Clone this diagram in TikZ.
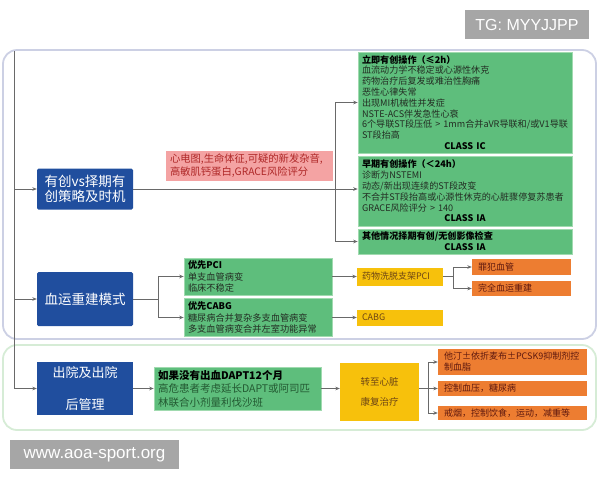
\documentclass[tikz,border=0pt]{standalone}
\usepackage{fontspec}
\setmainfont{Noto Sans CJK SC}
\newfontfamily\wmfont{Liberation Sans}
\usetikzlibrary{arrows.meta}
\definecolor{cBlue}{RGB}{32,78,158}
\definecolor{cGreen}{RGB}{94,190,124}
\definecolor{cGreenEdge}{RGB}{160,218,175}
\definecolor{cGText}{RGB}{35,45,35}
\definecolor{cDGText}{RGB}{35,90,50}
\definecolor{cRed}{RGB}{244,163,163}
\definecolor{cRedText}{RGB}{175,40,40}
\definecolor{cYellow}{RGB}{247,193,12}
\definecolor{cYText}{RGB}{110,70,20}
\definecolor{cOrange}{RGB}{237,125,49}
\definecolor{cOText}{RGB}{95,25,15}
\definecolor{cLine}{RGB}{105,105,105}
\definecolor{cPanelA}{RGB}{204,208,228}
\definecolor{cPanelB}{RGB}{214,236,214}
\definecolor{cWM}{RGB}{166,166,166}
\tikzset{
  conn/.style={draw=cLine, line width=0.7pt},
  arr/.style={conn, -{Stealth[length=4.5pt,width=3.6pt]}},
  bluebox/.style={fill=cBlue, text=white, inner sep=0pt, minimum width=96pt, align=center, rounded corners=1.5pt, font=\fontsize{13.5}{15.5}\selectfont},
  greenbox/.style={fill=cGreen, draw=cGreenEdge, line width=0.6pt, inner xsep=4pt, inner ysep=1pt, align=left, text=cGText, font=\fontsize{9.1}{10.8}\selectfont},
  redbox/.style={fill=cRed, inner xsep=4pt, inner ysep=1pt, align=left, text=cRedText, font=\fontsize{10.3}{13}\selectfont},
  yellowbox/.style={fill=cYellow, inner xsep=5pt, inner ysep=0pt, align=left, text=cYText, font=\fontsize{9}{11}\selectfont},
  orangebox/.style={fill=cOrange, inner xsep=6pt, inner ysep=0pt, align=left, text=cOText, font=\fontsize{9}{11}\selectfont},
  wmbox/.style={fill=cWM, text=white, inner sep=0pt, font=\wmfont\fontsize{16}{18}\selectfont},
  panel/.style={line width=1.8pt, rounded corners=14pt}
}
\begin{document}
\begin{tikzpicture}[x=1pt,y=-1pt]
\useasboundingbox (0,0) rectangle (600,480);
% panels
\draw[panel, draw=cPanelA] (3,50) rectangle (596,339);
\draw[panel, draw=cPanelB] (3,345) rectangle (596,430);
% watermarks
\node[wmbox, minimum width=124pt, minimum height=29pt] (tg) at (527,24.5) {TG: MYYJJPP};
\node[wmbox, minimum width=169pt, minimum height=29pt, font=\wmfont\fontsize{17}{19}\selectfont] (url) at (94.5,454.5) {www.aoa-sport.org};
% blue boxes
\node[bluebox, minimum height=41pt] (b1) at (85,189) {有创vs择期有\\创策略及时机};
\node[bluebox, minimum height=54pt] (b2) at (85,299) {血运重建模式};
\node[bluebox, minimum height=53pt, rounded corners=0pt, font=\fontsize{13}{32}\selectfont] (b3) at (85,388.5) {出院及出院\\后管理};
% red box
\node[redbox, text width=159pt, minimum height=30pt] (rb) at (249.5,166) {心电图,生命体征,可疑的新发杂音,\\高敏肌钙蛋白,GRACE风险评分};
% green boxes (right)
\node[greenbox, text width=206pt, minimum height=101pt] (g1) at (465,102.5) {{\color{black}\bfseries 立即有创操作（≤2h）}\\血流动力学不稳定或心源性休克\\药物治疗后复发或难治性胸痛\\恶性心律失常\\出现MI机械性并发症\\NSTE-ACS伴发急性心衰\\6个导联ST段压低 > 1mm合并aVR导联和/或V1导联\\ST段抬高\par{\centering\color{black}\bfseries CLASS IC\par}};
\node[greenbox, text width=206pt, minimum height=70pt] (g2) at (465,191) {{\color{black}\bfseries 早期有创操作（＜24h）}\\诊断为NSTEMI\\动态/新出现连续的ST段改变\\不合并ST段抬高或心源性休克的心脏骤停复苏患者\\GRACE风险评分 > 140\par{\centering\color{black}\bfseries CLASS IA\par}};
\node[greenbox, text width=206pt, minimum height=25pt] (g3) at (465,241.5) {{\color{black}\bfseries 其他情况择期有创/无创影像检查}\par{\centering\color{black}\bfseries CLASS IA\par}};
% revascularisation
\node[greenbox, text width=140pt, minimum height=37pt, font=\fontsize{9.2}{11.5}\selectfont] (pci) at (258,276.5) {{\color{black}\bfseries 优先PCI}\\单支血管病变\\临床不稳定};
\node[greenbox, text width=140pt, minimum height=38pt, font=\fontsize{9.2}{11.5}\selectfont] (cabg) at (258,317.5) {{\color{black}\bfseries 优先CABG}\\糖尿病合并复杂多支血管病变\\多支血管病变合并左室功能异常};
\node[yellowbox, text width=76pt, minimum height=18pt] (ypci) at (400,276.5) {药物洗脱支架PCI};
\node[yellowbox, text width=76pt, minimum height=16pt] (ycabg) at (400,317.5) {CABG};
\node[orangebox, text width=87pt, minimum height=16pt] (o1) at (521.5,267) {罪犯血管};
\node[orangebox, text width=87pt, minimum height=15pt] (o2) at (521.5,288.5) {完全血运重建};
% discharge
\node[greenbox, text width=159pt, minimum height=43pt, text=cDGText, font=\fontsize{10.5}{13.5}\selectfont] (gb) at (237.5,388.5) {{\color{black}\bfseries 如果没有出血DAPT12个月}\\高危患者考虑延长DAPT或阿司匹\\林联合小剂量利伐沙班};
\node[fill=cYellow, text=cYText, minimum width=79pt, minimum height=58pt, inner sep=0pt, align=center, font=\fontsize{9.5}{20}\selectfont] (yb) at (379.5,392) {转至心脏\\康复治疗};
\node[orangebox, text width=137pt, minimum height=26pt] (o3) at (512.5,362) {他汀±依折麦布±PCSK9抑制剂控\\制血脂};
\node[orangebox, text width=137pt, minimum height=15pt] (o4) at (512.5,388.5) {控制血压，糖尿病};
\node[orangebox, text width=137pt, minimum height=14pt] (o5) at (512.5,413) {戒烟，控制饮食，运动，减重等};
% trunk
\coordinate (t0) at (14,51);
\coordinate (t1) at (14,189);
\coordinate (t2) at (14,299);
\coordinate (t3) at (14,388.5);
\draw[conn] (t0) -- (t3);
\draw[arr] (t1) -- (b1.west);
\draw[arr] (t2) -- (b2.west);
\draw[arr] (t3) -- (b3.west);
% strategy branches
\coordinate (j1) at (335,189);
\draw[conn] (b1.east) -- (j1);
\draw[arr] (j1) -- (j1 -| g2.west);
\draw[conn] (j1 |- g1.west) -- (j1 |- g3.west);
\draw[arr] (j1 |- g1.west) -- (g1.west);
\draw[arr] (j1 |- g3.west) -- (g3.west);
% revascularisation branches
\coordinate (j2) at (158,299);
\draw[conn] (b2.east) -- (j2);
\draw[arr] (j2) |- (pci.west);
\draw[arr] (j2) |- (cabg.west);
\draw[arr] (pci.east) -- (ypci.west);
\draw[arr] (cabg.east) -- (ycabg.west);
\coordinate (j3) at (453,276.5);
\draw[conn] (ypci.east) -- (j3);
\draw[arr] (j3) |- (o1.west);
\draw[arr] (j3) |- (o2.west);
% discharge branches
\draw[arr] (b3.east) -- (gb.west);
\draw[arr] (gb.east) -- (gb.east -| yb.west);
\coordinate (j4) at (428,388.5);
\draw[conn] (yb.east |- gb.east) -- (j4);
\draw[arr] (j4) |- (o3.west);
\draw[arr] (j4) -- (o4.west);
\draw[arr] (j4) |- (o5.west);
\end{tikzpicture}
\end{document}
